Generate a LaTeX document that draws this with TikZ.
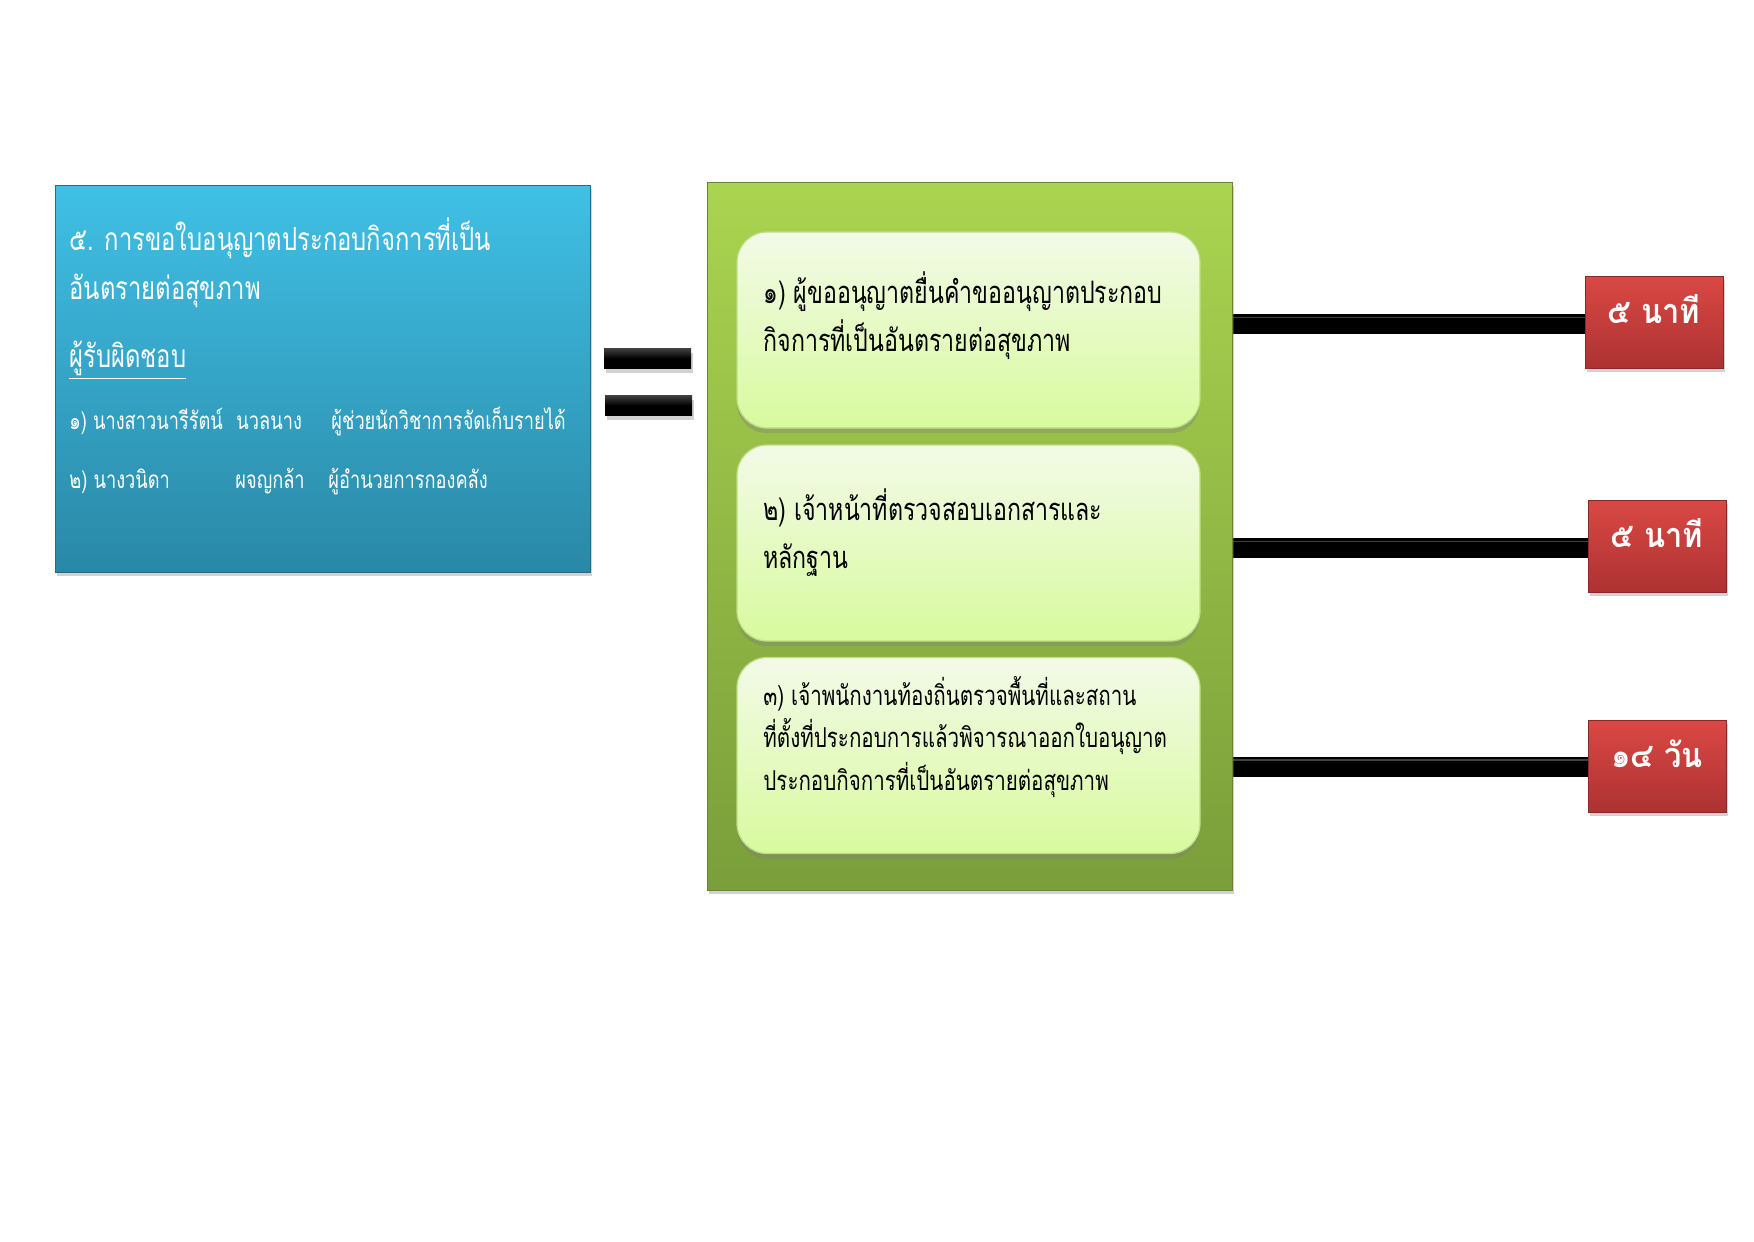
\documentclass[tikz,border=0pt]{standalone}
\usepackage{fontspec}
\newfontfamily\thai[Script=Thai,FakeStretch=0.75]{Loma}
\newfontfamily\thaib[Script=Thai,FakeStretch=0.9]{Loma}
\usetikzlibrary{shadows,backgrounds}
\definecolor{bluetop}{RGB}{64,192,230}
\definecolor{bluebot}{RGB}{42,136,166}
\definecolor{greentop}{RGB}{170,212,80}
\definecolor{greenbot}{RGB}{122,158,58}
\definecolor{innertop}{RGB}{243,250,232}
\definecolor{innerbot}{RGB}{216,250,158}
\definecolor{redtop}{RGB}{218,72,68}
\definecolor{redbot}{RGB}{172,50,50}
\newlength\pxu
\setlength\pxu{0.16933mm}
\tikzset{
  shad/.style={drop shadow={opacity=0.35,shadow xshift=1pt,shadow yshift=-2pt}},
  bluebox/.style={shad,rectangle,top color=bluetop,bottom color=bluebot,draw=bluebot!80!black,line width=0.4pt},
  greenbox/.style={shad,rectangle,top color=greentop,bottom color=greenbot,draw=greenbot!85!black,line width=0.4pt},
  stepbox/.style={drop shadow={opacity=0.4,shadow xshift=0pt,shadow yshift=-2.5pt},rectangle,rounded corners=30\pxu,top color=innertop,bottom color=innerbot,draw=innerbot!70!greenbot,line width=0.6pt,minimum width=463\pxu,minimum height=196\pxu},
  timebox/.style={shad,rectangle,top color=redtop,bottom color=redbot,draw=redbot!80!black,line width=0.4pt,minimum width=138\pxu,minimum height=92\pxu},
  eqbar/.style={shad,rectangle,top color=black!75,bottom color=black,middle color=black,minimum width=87\pxu,minimum height=20\pxu},
  connbar/.style={line width=20\pxu,black,
    postaction={draw=white,opacity=0.25,line width=1.5\pxu,transform canvas={yshift=6.5\pxu}}},
  wtxt/.style={inner sep=0pt,anchor=base west,text=white,font=\thai},
  btxt/.style={inner sep=0pt,anchor=base west,text=black,font=\thai},
  ttxt/.style={inner sep=0pt,anchor=base,text=white,font=\thaib\bfseries\fontsize{16.5pt}{20pt}\selectfont},
}
\begin{document}
\begin{tikzpicture}[x=0.16933mm,y=-0.16933mm]
\begin{pgfonlayer}{background}
\fill[white] (0,0) rectangle (1754,1241);
\end{pgfonlayer}
\useasboundingbox (0,0) rectangle (1754,1241);
% left blue box
\node[bluebox,minimum width=535\pxu,minimum height=387\pxu] (blue) at (322.5,378.5) {};
\node[wtxt,font=\thai\fontsize{15.3pt}{18pt}\selectfont] (bt1) at (69,250) {๕. การขอใบอนุญาตประกอบกิจการที่เป็น};
\node[wtxt,font=\thai\fontsize{15.3pt}{18pt}\selectfont] (bt2) at (69,299) {อันตรายต่อสุขภาพ};
\node[wtxt,font=\thai\fontsize{15.3pt}{18pt}\selectfont] (bt3) at (69,367) {\underline{ผู้รับผิดชอบ}};
\node[wtxt,font=\thai\fontsize{11.7pt}{14pt}\selectfont] (bt4) at (69,429) {\makebox[167\pxu][l]{๑) นางสาวนารีรัตน์}\makebox[95\pxu][l]{นวลนาง}ผู้ช่วยนักวิชาการจัดเก็บรายได้};
\node[wtxt,font=\thai\fontsize{11.7pt}{14pt}\selectfont] (bt5) at (69,488) {\makebox[166\pxu][l]{๒) นางวนิดา}\makebox[93\pxu][l]{ผจญกล้า}ผู้อำนวยการกองคลัง};
% equals sign
\node[eqbar] (eq1) at (647.5,358.5) {};
\node[eqbar] (eq2) at (648.5,405.5) {};
% green box
\node[greenbox,minimum width=525\pxu,minimum height=708\pxu] (green) at (969.5,536) {};
\node[stepbox] (s1) at (968.5,330) {};
\node[stepbox] (s2) at (968.5,543) {};
\node[stepbox] (s3) at (968.5,755.5) {};
\node[btxt,font=\thai\fontsize{14.9pt}{18pt}\selectfont] (s1a) at (763,303) {๑) ผู้ขออนุญาตยื่นคำขออนุญาตประกอบ};
\node[btxt,font=\thai\fontsize{14.9pt}{18pt}\selectfont] (s1b) at (763,351) {กิจการที่เป็นอันตรายต่อสุขภาพ};
\node[btxt,font=\thai\fontsize{14.9pt}{18pt}\selectfont] (s2a) at (763,520) {๒) เจ้าหน้าที่ตรวจสอบเอกสารและ};
\node[btxt,font=\thai\fontsize{14.9pt}{18pt}\selectfont] (s2b) at (763,568) {หลักฐาน};
\node[btxt,font=\thai\fontsize{13.2pt}{16pt}\selectfont] (s3a) at (763,705) {๓) เจ้าพนักงานท้องถิ่นตรวจพื้นที่และสถาน};
\node[btxt,font=\thai\fontsize{13.2pt}{16pt}\selectfont] (s3b) at (763,747) {ที่ตั้งที่ประกอบการแล้วพิจารณาออกใบอนุญาต};
\node[btxt,font=\thai\fontsize{13.2pt}{16pt}\selectfont] (s3c) at (763,790) {ประกอบกิจการที่เป็นอันตรายต่อสุขภาพ};
% time boxes
\node[timebox] (t1) at (1654,322) {};
\node[timebox] (t2) at (1657,546) {};
\node[timebox] (t3) at (1657,766) {};
\node[ttxt] (t1l) at (1654,323) {๕ นาที};
\node[ttxt] (t2l) at (1657,547) {๕ นาที};
\node[ttxt] (t3l) at (1657,767) {๑๔ วัน};
% connector bars
\begin{pgfonlayer}{background}
\draw[connbar] (green.east |- 0,324) -- (t1.west |- 0,324);
\draw[connbar] (green.east |- 0,548) -- (t2.west |- 0,548);
\draw[connbar] (green.east |- 0,766.5) -- (t3.west |- 0,766.5);
\end{pgfonlayer}
\end{tikzpicture}
\end{document}
